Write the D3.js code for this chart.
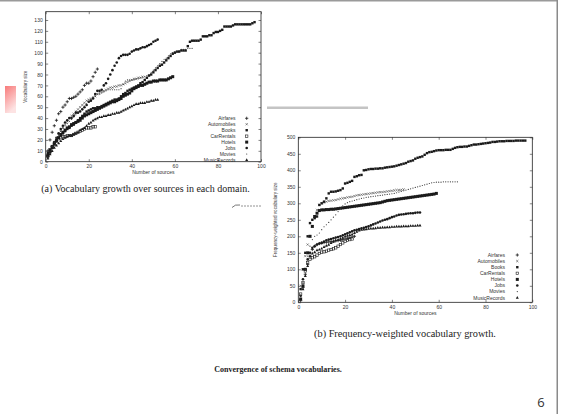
<!DOCTYPE html>
<html>
<head>
<meta charset="utf-8">
<script src="https://cdn.jsdelivr.net/npm/d3@7"></script>
<style>
  body { margin: 0; background: #fff; }
  svg { display: block; }
</style>
</head>
<body>
<svg id="slide" width="563" height="414"></svg>
<script>
// legend order / domains
const domainNames = ["Airfares", "Automobiles", "Books", "CarRentals", "Hotels", "Jobs", "Movies", "MusicRecords"];
const xTicks = [0, 20, 40, 60, 80, 100];
const vocabTicks = [0, 10, 20, 30, 40, 50, 60, 70, 80, 90, 100, 110, 120, 130];
const freqTicks = [0, 50, 100, 150, 200, 250, 300, 350, 400, 450, 500];

// (a) vocabulary size after n sources (n = 1, 2, ...)
const airfaresVocab = [10, 20, 27, 33, 38, 44, 46, 50, 52, 55, 58, 58,
  59, 60, 62, 64, 66, 70, 72, 72, 74, 78, 82, 85];
const automobilesVocab = [4, 8, 12, 16, 20, 24, 28, 31, 34, 37,
  40, 42, 44, 46, 48, 50, 52, 54, 56, 57,
  58, 59, 60, 62, 63, 64, 65, 66, 67, 68,
  68, 69, 69, 70, 70, 71, 72, 73, 74, 75, 76, 76, 77, 77, 78];
const booksVocab = [8, 11, 14, 17, 20, 22, 24, 26, 28, 30,
  31, 33, 34, 36, 38, 40, 42, 44, 46, 47,
  48, 49, 49, 50, 50, 51, 52, 53, 54, 55,
  56, 57, 57, 58, 60, 62, 63, 65, 66, 67,
  68, 69, 70, 72, 73, 75, 77, 79, 80, 82,
  84, 86, 88, 89, 91, 93, 95, 97, 99, 100,
  101, 101, 102, 102, 102, 106, 110, 111, 111, 111,
  111, 112, 115, 115, 115, 116, 116, 118, 119, 119,
  120, 121, 124, 124, 124, 124, 125, 126, 126, 126,
  126, 126, 126, 126, 126, 127, 128];
const carRentalsVocab = [5, 11, 14, 17, 19, 21, 22, 23, 23, 24, 24, 24,
  25, 26, 27, 28, 29, 30, 31, 31, 31, 32, 32];
const hotelsVocab = [6, 9, 13, 16, 19, 22, 25, 27, 29, 31,
  32, 34, 35, 36, 37, 38, 40, 42, 43, 44,
  45, 46, 47, 48, 49, 50, 51, 52, 53, 54,
  55, 55, 56, 57, 58, 60, 61, 62, 63, 65,
  67, 68, 69, 70, 70, 71, 72, 73, 73, 74,
  74, 74, 75, 75, 75, 75, 76, 77, 78];
const jobsVocab = [5, 9, 14, 18, 22, 26, 30, 33, 36, 38,
  40, 40, 42, 45, 45, 46, 48, 50, 52, 55,
  56, 58, 62, 65, 65, 66, 70, 72, 76, 80,
  84, 88, 91, 95, 97, 98, 98, 98, 99, 101,
  102, 103, 103, 104, 105, 105, 106, 107, 108, 110, 111, 112];
const moviesVocab = [5, 9, 14, 18, 22, 25, 28, 31, 33, 35,
  37, 39, 41, 43, 45, 47, 49, 51, 53, 55,
  57, 59, 60, 62, 62, 63, 64, 65, 66, 66,
  66, 66, 66, 66, 67, 71, 74, 75, 75, 75,
  75, 76, 76, 77, 77, 78, 79, 80, 82, 84,
  86, 88, 90, 92, 94, 95, 97, 99, 100, 101,
  101, 102, 103, 103, 103, 104, 104, 104];
const musicVocab = [3, 7, 10, 13, 15, 17, 19, 21, 22, 23,
  24, 24, 25, 26, 27, 29, 30, 31, 33, 35,
  36, 38, 39, 40, 41, 41, 42, 42, 43, 43,
  44, 44, 45, 45, 46, 47, 48, 49, 50, 51,
  52, 53, 53, 54, 54, 54, 55, 55, 56, 56, 57, 57];

// (b) frequency-weighted vocabulary size
const airfaresFreq = [5, 45, 85, 115, 140, 160, 170, 175, 178, 180, 181, 182,
  183, 184, 185, 186, 187, 188, 190, 192, 194, 196, 198, 200];
const automobilesFreq = [50, 100, 140, 175, 200, 230, 260, 280, 295, 300,
  302, 305, 307, 308, 309, 310, 312, 314, 315, 316,
  318, 319, 320, 322, 324, 325, 326, 327, 328, 329,
  330, 331, 332, 333, 334, 334, 335, 336, 337, 338, 339, 340, 340, 341, 342];
const booksFreq = [40, 100, 150, 200, 240, 250, 255, 260, 295, 300,
  305, 315, 330, 335, 335, 336, 338, 340, 345, 360,
  362, 365, 368, 380, 382, 385, 386, 400, 401, 403,
  404, 404, 405, 405, 406, 406, 408, 409, 410, 411,
  412, 414, 416, 418, 420, 422, 426, 428, 430, 435,
  438, 440, 442, 447, 452, 455, 456, 458, 460, 461,
  461, 461, 462, 462, 462, 465, 468, 470, 471, 471,
  472, 472, 474, 476, 478, 478, 479, 480, 481, 482,
  483, 484, 486, 486, 487, 488, 488, 488, 489, 489,
  489, 489, 490, 490, 490, 490, 490];
const carRentalsFreq = [25, 60, 95, 120, 130, 135, 138, 143, 148, 152, 153, 155,
  158, 160, 162, 165, 170, 175, 180, 185, 188, 190, 192];
const hotelsFreq = [10, 50, 100, 150, 200, 230, 260, 270, 278, 280,
  280, 281, 281, 282, 282, 283, 284, 285, 286, 287,
  288, 289, 290, 291, 292, 293, 294, 295, 296, 297,
  298, 299, 300, 301, 302, 304, 306, 308, 309, 310,
  311, 312, 313, 314, 315, 316, 317, 318, 319, 320,
  321, 322, 323, 324, 325, 326, 327, 328, 330];
const jobsFreq = [20, 70, 100, 130, 150, 165, 170, 175, 178, 180,
  184, 188, 190, 192, 194, 196, 198, 200, 203, 206,
  209, 212, 215, 218, 220, 222, 224, 226, 228, 230,
  233, 236, 239, 242, 245, 248, 250, 252, 255, 258,
  260, 263, 265, 266, 267, 268, 269, 270, 270, 271, 272, 272];
const moviesFreq = [20, 60, 100, 140, 170, 190, 200, 204, 210, 220,
  229, 235, 242, 250, 258, 265, 275, 285, 292, 298,
  302, 305, 307, 309, 311, 313, 315, 316, 318, 319,
  320, 321, 322, 323, 324, 325, 326, 327, 328, 329,
  330, 332, 334, 336, 338, 340, 342, 344, 346, 348,
  350, 352, 354, 356, 358, 360, 362, 363, 364, 364,
  364, 365, 365, 365, 365, 365, 365, 365];
const musicFreq = [10, 40, 80, 110, 140, 148, 152, 158, 160, 163,
  168, 172, 175, 180, 184, 188, 190, 193, 196, 200,
  202, 204, 206, 210, 214, 218, 220, 221, 222, 223,
  224, 224, 225, 226, 226, 227, 227, 228, 228, 229,
  229, 230, 230, 230, 231, 231, 231, 232, 232, 232, 233, 233];

const vocabSeries = [airfaresVocab, automobilesVocab, booksVocab, carRentalsVocab,
  hotelsVocab, jobsVocab, moviesVocab, musicVocab];
const freqSeries = [airfaresFreq, automobilesFreq, booksFreq, carRentalsFreq,
  hotelsFreq, jobsFreq, moviesFreq, musicFreq];

// gnuplot-ish point types, one per domain
const markerKind = ["plus", "cross", "square", "openSquare", "bigSquare", "circle", "dot", "triangle"];

const svg = d3.select("#slide");
const ink = "#1a1a1a";
const tickFont = "'Liberation Sans', Arial, sans-serif";

// slide decoration
svg.append("rect").attr("x", 0).attr("y", 0).attr("width", 558).attr("height", 1.5).attr("fill", "#9a9a9a");
svg.append("rect").attr("x", 556.5).attr("y", 0).attr("width", 1.5).attr("height", 414).attr("fill", "#8a8a8a");

const defs = svg.append("defs");
const grad = defs.append("linearGradient").attr("id", "pink").attr("x1", 0).attr("y1", 0).attr("x2", 0.4).attr("y2", 1);
grad.append("stop").attr("offset", 0).attr("stop-color", "#f87a7a");
grad.append("stop").attr("offset", 1).attr("stop-color", "#fde3e3");
svg.append("rect").attr("x", 5).attr("y", 86).attr("width", 11).attr("height", 27).attr("fill", "url(#pink)");
svg.append("rect").attr("x", 267).attr("y", 106.5).attr("width", 101).attr("height", 2.5).attr("fill", "#c4c4c4");

function drawMarker(g, kind) {
  if (kind === "plus") {
    g.append("path").attr("d", "M-1.6,0H1.6M0,-1.6V1.6").attr("stroke", ink).attr("stroke-width", 0.8);
  } else if (kind === "cross") {
    g.append("path").attr("d", "M-1.1,-1.1L1.1,1.1M-1.1,1.1L1.1,-1.1").attr("stroke", "#444").attr("stroke-width", 0.6);
  } else if (kind === "square") {
    g.append("rect").attr("x", -1.2).attr("y", -1.2).attr("width", 2.4).attr("height", 2.4).attr("fill", ink);
  } else if (kind === "openSquare") {
    g.append("rect").attr("x", -1.2).attr("y", -1.2).attr("width", 2.4).attr("height", 2.4)
      .attr("fill", "none").attr("stroke", ink).attr("stroke-width", 0.6);
  } else if (kind === "bigSquare") {
    g.append("rect").attr("x", -1.5).attr("y", -1.5).attr("width", 3).attr("height", 3).attr("fill", ink);
  } else if (kind === "circle") {
    g.append("circle").attr("r", 1.3).attr("fill", ink);
  } else if (kind === "dot") {
    g.append("circle").attr("r", 0.6).attr("fill", "#333");
  } else {
    g.append("path").attr("d", "M0,-1.6L1.5,1.1H-1.5Z").attr("fill", ink);
  }
}

function drawPanel(p) {
  const x = d3.scaleLinear().domain([0, 100]).range([p.left, p.right]);
  const y = d3.scaleLinear().domain([0, p.yMax]).range([p.bottom, p.top]);
  const g = svg.append("g");

  const styleAxis = sel => {
    sel.select(".domain").remove();
    sel.selectAll("line").attr("stroke", "#333").attr("stroke-width", 0.6);
    sel.selectAll("text").attr("font-family", tickFont).attr("font-size", 5).attr("fill", "#333");
  };

  g.append("g").attr("transform", `translate(0,${p.bottom})`)
    .call(d3.axisBottom(x).tickValues(xTicks).tickSize(-2.5).tickPadding(3)).call(styleAxis);
  g.append("g").attr("transform", `translate(0,${p.top})`)
    .call(d3.axisTop(x).tickValues(xTicks).tickSize(-2.5).tickFormat("")).call(styleAxis);
  g.append("g").attr("transform", `translate(${p.left},0)`)
    .call(d3.axisLeft(y).tickValues(p.yTicks).tickSize(-2.5).tickPadding(3)).call(styleAxis);
  g.append("g").attr("transform", `translate(${p.right},0)`)
    .call(d3.axisRight(y).tickValues(p.yTicks).tickSize(-2.5).tickFormat("")).call(styleAxis);

  g.append("rect").attr("x", p.left).attr("y", p.top)
    .attr("width", p.right - p.left).attr("height", p.bottom - p.top)
    .attr("fill", "none").attr("stroke", "#222").attr("stroke-width", 0.8);

  g.append("text").attr("x", (p.left + p.right) / 2).attr("y", p.bottom + 12.5)
    .attr("text-anchor", "middle").attr("font-family", tickFont).attr("font-size", 5).attr("fill", "#333")
    .text("Number of sources");
  g.append("text").attr("transform", `translate(${p.yLabelX},${(p.top + p.bottom) / 2}) rotate(-90)`)
    .attr("text-anchor", "middle").attr("font-family", tickFont).attr("font-size", 4.6).attr("fill", "#333")
    .text(p.yLabel);

  p.series.forEach((vals, i) => {
    const pts = g.append("g").selectAll("g").data(vals).join("g")
      .attr("transform", (v, j) => `translate(${x(j + 1)},${y(v)})`);
    pts.each(function () { drawMarker(d3.select(this), markerKind[i]); });
  });

  // key
  domainNames.forEach((name, i) => {
    const ly = p.legendTop + i * p.legendStep;
    g.append("text").attr("x", p.legendTextX).attr("y", ly + 1.8)
      .attr("text-anchor", "end").attr("font-family", tickFont).attr("font-size", 5).attr("fill", "#333")
      .text(name);
    drawMarker(g.append("g").attr("transform", `translate(${p.legendMarkX},${ly})`), markerKind[i]);
  });
}

drawPanel({
  left: 45.7, right: 261, top: 11.7, bottom: 161.7, yMax: 137.6, yTicks: vocabTicks,
  series: vocabSeries, yLabel: "Vocabulary size", yLabelX: 27,
  legendTop: 118.3, legendStep: 5.95, legendTextX: 235.5, legendMarkX: 246.7
});

drawPanel({
  left: 298.3, right: 532.3, top: 137.3, bottom: 302.3, yMax: 500, yTicks: freqTicks,
  series: freqSeries, yLabel: "Frequency-weighted vocabulary size", yLabelX: 277,
  legendTop: 255, legendStep: 6.1, legendTextX: 505, legendMarkX: 517.3
});

// captions
const serif = "'Liberation Serif', 'Times New Roman', serif";
svg.append("text").attr("x", 145.5).attr("y", 192.3).attr("text-anchor", "middle")
  .attr("font-family", serif).attr("font-size", 10).attr("fill", "#222")
  .text("(a) Vocabulary growth over sources in each domain.");
svg.append("text").attr("x", 405).attr("y", 337.3).attr("text-anchor", "middle")
  .attr("font-family", serif).attr("font-size", 10.3).attr("fill", "#222")
  .text("(b) Frequency-weighted vocabulary growth.");
svg.append("text").attr("x", 278).attr("y", 371.5).attr("text-anchor", "middle")
  .attr("font-family", serif).attr("font-size", 8).attr("font-weight", "bold").attr("fill", "#222")
  .text("Convergence of schema vocabularies.");
svg.append("text").attr("x", 541).attr("y", 407).attr("text-anchor", "middle")
  .attr("font-family", "'Open Sans', sans-serif").attr("font-size", 13).attr("fill", "#333")
  .text("6");

// small stray stroke left on the slide
svg.append("path").attr("d", "M232,207.5Q235,204 240,205").attr("fill", "none").attr("stroke", "#555").attr("stroke-width", 0.8);
svg.append("path").attr("d", "M241,206H262").attr("fill", "none").attr("stroke", "#777")
  .attr("stroke-width", 0.8).attr("stroke-dasharray", "2,1");
</script>
</body>
</html>
